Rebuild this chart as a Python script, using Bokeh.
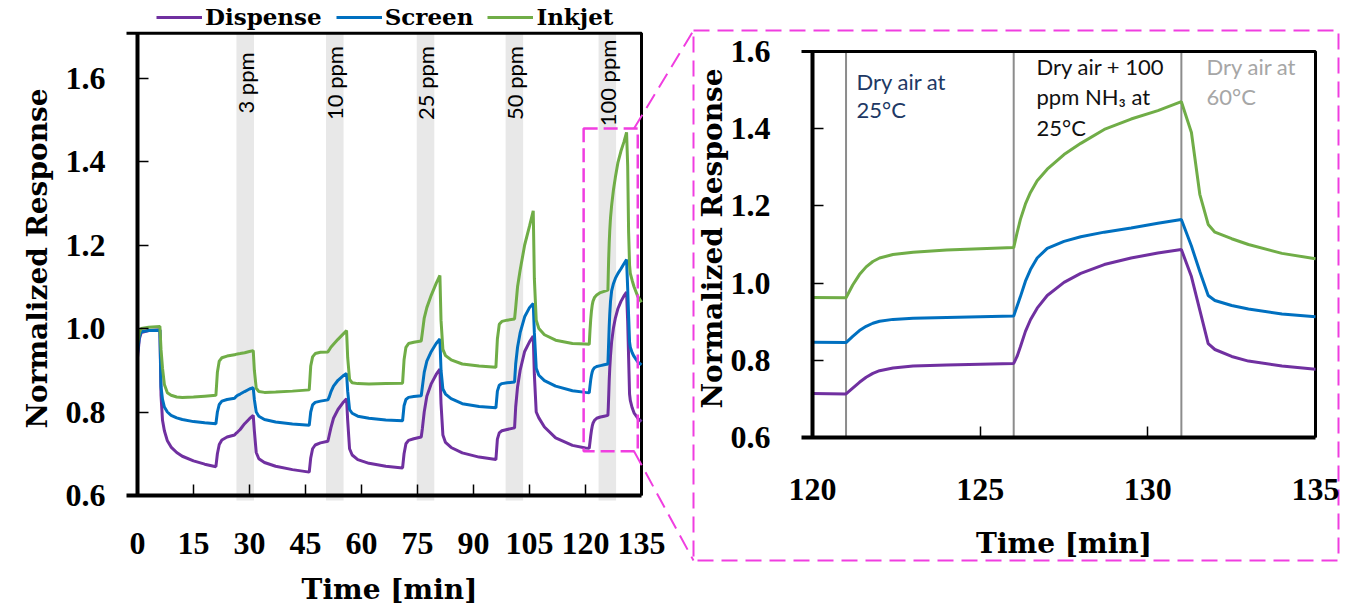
import math
from bokeh.plotting import figure
from bokeh.models import (Range1d, FixedTicker, PrintfTickFormatter,
                          BoxAnnotation, Legend, LegendItem, LinearAxis)
from bokeh.core.properties import value
from bokeh.embed import file_html
from bokeh.resources import INLINE

# ---------------- data ----------------
time_min = [
    0, 0.5, 1, 3, 6,
    6.3, 6.7, 7.2, 8, 9, 10.5, 12, 15, 18,
    21, 21.4, 21.9, 22.6, 24, 26, 26.3, 26.8, 27.5, 28.7, 30, 31, 31.3, 31.8, 32.5, 34, 37, 41.5,
    46, 46.4, 46.9, 47.6, 49, 51, 51.3, 51.8, 52.5, 53.7, 55, 56, 56.3, 56.8, 57.5, 59, 62, 66.5,
    71, 71.4, 71.9, 72.6, 74, 76, 76.3, 76.8, 77.5, 78.7, 80, 81, 81.3, 81.8, 82.5, 84, 87, 91.5,
    96, 96.4, 96.9, 97.6, 99, 101, 101.3, 101.8, 102.5, 103.7, 105, 106, 106.3, 106.8, 107.5, 109, 112, 116.5,
    120, 121, 121.2, 121.4, 121.6, 121.8, 122, 122.4, 123, 124, 125, 126, 126.1, 126.2, 126.35, 126.5,
    126.7, 127, 127.5, 128, 128.7, 129.5, 130.3, 131, 131.3, 131.55, 131.8, 132, 132.5, 133, 134, 135,
]
dispense = [
    0.93, 0.975, 0.99, 0.995, 0.997,
    0.84, 0.78, 0.755, 0.731, 0.716, 0.703, 0.694, 0.683, 0.675,
    0.669, 0.700, 0.722, 0.733, 0.740, 0.745, 0.748, 0.752, 0.758, 0.772, 0.784, 0.792, 0.755, 0.703, 0.688, 0.679, 0.670, 0.662,
    0.656, 0.690, 0.712, 0.721, 0.726, 0.730, 0.742, 0.762, 0.785, 0.806, 0.822, 0.832, 0.780, 0.712, 0.697, 0.686, 0.677, 0.670,
    0.666, 0.700, 0.724, 0.732, 0.736, 0.740, 0.760, 0.800, 0.838, 0.868, 0.890, 0.903, 0.820, 0.745, 0.727, 0.715, 0.702, 0.692,
    0.686, 0.735, 0.750, 0.755, 0.758, 0.762, 0.812, 0.860, 0.900, 0.945, 0.968, 0.982, 0.890, 0.800, 0.786, 0.764, 0.738, 0.720,
    0.714, 0.713, 0.728, 0.743, 0.756, 0.766, 0.773, 0.780, 0.785, 0.788, 0.790, 0.792, 0.810, 0.835, 0.875, 0.905,
    0.935, 0.968, 1.002, 1.025, 1.048, 1.065, 1.078, 1.087, 1.017, 0.930, 0.843, 0.828, 0.810, 0.798, 0.785, 0.777,
]
screen = [
    0.94, 0.98, 0.992, 0.995, 0.996,
    0.86, 0.83, 0.812, 0.800, 0.792, 0.786, 0.782, 0.777, 0.774,
    0.772, 0.800, 0.818, 0.826, 0.830, 0.833, 0.836, 0.840, 0.843, 0.849, 0.855, 0.858, 0.830, 0.800, 0.790, 0.782, 0.776, 0.771,
    0.768, 0.800, 0.817, 0.823, 0.826, 0.829, 0.835, 0.848, 0.862, 0.876, 0.886, 0.892, 0.850, 0.806, 0.797, 0.790, 0.785, 0.781,
    0.779, 0.815, 0.830, 0.835, 0.837, 0.839, 0.860, 0.895, 0.922, 0.945, 0.964, 0.975, 0.900, 0.855, 0.843, 0.832, 0.820, 0.813,
    0.810, 0.850, 0.864, 0.868, 0.870, 0.872, 0.915, 0.955, 0.990, 1.028, 1.050, 1.060, 0.990, 0.905, 0.888, 0.875, 0.862, 0.851,
    0.847, 0.846, 0.862, 0.877, 0.888, 0.896, 0.901, 0.906, 0.909, 0.911, 0.913, 0.915, 0.940, 0.965, 1.005, 1.035,
    1.065, 1.090, 1.108, 1.120, 1.132, 1.143, 1.155, 1.165, 1.096, 1.030, 0.968, 0.955, 0.942, 0.933, 0.920, 0.913,
]
inkjet = [
    0.962, 0.990, 1.000, 1.003, 1.005,
    0.950, 0.905, 0.866, 0.846, 0.840, 0.836, 0.835, 0.836, 0.838,
    0.840, 0.895, 0.922, 0.930, 0.934, 0.937, 0.938, 0.939, 0.940, 0.942, 0.945, 0.947, 0.900, 0.857, 0.849, 0.847, 0.848, 0.850,
    0.853, 0.910, 0.932, 0.940, 0.943, 0.944, 0.948, 0.955, 0.962, 0.974, 0.986, 0.995, 0.930, 0.878, 0.870, 0.868, 0.867, 0.868,
    0.869, 0.925, 0.955, 0.964, 0.967, 0.970, 0.990, 1.025, 1.050, 1.080, 1.108, 1.127, 1.020, 0.950, 0.935, 0.925, 0.915, 0.910,
    0.907, 0.975, 1.010, 1.017, 1.020, 1.023, 1.050, 1.100, 1.140, 1.200, 1.245, 1.282, 1.120, 1.020, 1.000, 0.985, 0.972, 0.964,
    0.963, 0.962, 0.995, 1.022, 1.042, 1.056, 1.065, 1.074, 1.080, 1.086, 1.089, 1.092, 1.130, 1.165, 1.205, 1.235,
    1.265, 1.295, 1.333, 1.362, 1.398, 1.425, 1.447, 1.470, 1.390, 1.230, 1.152, 1.132, 1.115, 1.100, 1.077, 1.063,
]

series_names = ["Dispense", "Screen", "Inkjet"]
series_colors = ["#7030A0", "#0070C0", "#70AD47"]

band_start = [26.5, 50.5, 74.8, 98.6, 123.5]
band_end = [31.2, 55.2, 79.5, 103.3, 128.2]
band_labels = ["3 ppm", "10 ppm", "25 ppm", "50 ppm", "100 ppm"]
band_label_y = 1.588

main_x_ticks = [0, 15, 30, 45, 60, 75, 90, 105, 120, 135]
main_y_ticks = [0.6, 0.8, 1.0, 1.2, 1.4, 1.6]
inset_x_ticks = [120, 125, 130, 135]
inset_y_ticks = [0.6, 0.8, 1.0, 1.2, 1.4, 1.6]

main_x_lim = [0, 135]
main_y_lim = [0.6, 1.707]
inset_x_lim = [120, 135]
inset_y_lim = [0.6, 1.6]

zoom_x = [119.5, 134.0]
zoom_y = [0.706, 1.479]

phase_times = [121, 126, 131]
phase_texts = ["Dry air at\n25°C", "Dry air + 100\nppm NH\u2083 at\n25°C", "Dry air at\n60°C"]
phase_colors = ["#203864", "#111111", "#a6a6a6"]

MAGENTA = "#f03ee0"
SERIF_NUM = "Liberation Serif"
SERIF_TXT = "DejaVu Serif"

# ---------------- page geometry (px, canvas starts at page origin) ----------------
W, H = 1344, 608
PAGE_L, PAGE_T = 0, 0
PAGE_R, PAGE_B = PAGE_L + W, PAGE_T + H
M_LEFT_PX, M_RIGHT_PX, M_BOTTOM_PX = 137, 641, 495
M_PX_PER_Y = 417.5
I_LEFT_PX, I_RIGHT_PX, I_BOTTOM_PX, I_TOP_PX = 812, 1315, 437, 51
BOX_PX = (693, 30, 1338, 560)
CAP_PX = 11

msx = (M_RIGHT_PX - M_LEFT_PX) / (main_x_lim[1] - main_x_lim[0])
isx = (I_RIGHT_PX - I_LEFT_PX) / (inset_x_lim[1] - inset_x_lim[0])
isy = (I_BOTTOM_PX - I_TOP_PX) / (inset_y_lim[1] - inset_y_lim[0])


def mx(px):  # page x -> main data x
    return main_x_lim[0] + (px - M_LEFT_PX) / msx


def my(py):  # page y -> main data y
    return main_y_lim[0] + (M_BOTTOM_PX - py) / M_PX_PER_Y


def ix(px):
    return inset_x_lim[0] + (px - I_LEFT_PX) / isx


def iy(py):
    return inset_y_lim[0] + (I_BOTTOM_PX - py) / isy


p = figure(width=W, height=H,
           x_range=Range1d(mx(PAGE_L), mx(PAGE_R)), y_range=Range1d(my(PAGE_B), my(PAGE_T)),
           output_backend="svg", toolbar_location=None, min_border=0,
           outline_line_color=None)
p.extra_x_ranges = {"ix": Range1d(ix(PAGE_L), ix(PAGE_R))}
p.extra_y_ranges = {"iy": Range1d(iy(PAGE_B), iy(PAGE_T))}
p.xgrid.visible = False
p.ygrid.visible = False


def style_axis(ax, ticks, standoff, fmt=None):
    ax.ticker = FixedTicker(ticks=ticks)
    if fmt:
        ax.formatter = PrintfTickFormatter(format=fmt)
    ax.axis_line_width = 4
    ax.axis_line_color = "black"
    ax.major_tick_in = 11
    ax.major_tick_out = 0
    ax.minor_tick_in = 0
    ax.minor_tick_out = 0
    ax.major_tick_line_width = 1.5
    ax.major_label_text_font = SERIF_NUM
    ax.major_label_text_font_style = "bold"
    ax.major_label_text_font_size = "32px"
    ax.major_label_text_color = "black"
    ax.major_label_standoff = standoff


# main axes (fixed inside the frame)
xa = p.xaxis[0]
xa.fixed_location = main_y_lim[0]
xa.bounds = (main_x_lim[0] - CAP_PX / msx, main_x_lim[1])
style_axis(xa, main_x_ticks, 37)
ya = p.yaxis[0]
ya.fixed_location = main_x_lim[0]
ya.bounds = (main_y_lim[0], main_y_lim[1])
style_axis(ya, main_y_ticks, 32, "%.1f")

# inset axes
ixa = LinearAxis(x_range_name="ix", y_range_name="iy", fixed_location=inset_y_lim[0],
                 bounds=(inset_x_lim[0] - CAP_PX / isx, inset_x_lim[1]))
style_axis(ixa, inset_x_ticks, 41)
p.add_layout(ixa, "below")
iya = LinearAxis(x_range_name="ix", y_range_name="iy", fixed_location=inset_x_lim[0],
                 bounds=(inset_y_lim[0], inset_y_lim[1]))
style_axis(iya, inset_y_ticks, 42, "%.1f")
p.add_layout(iya, "left")

# exposure bands
for s, e in zip(band_start, band_end):
    p.add_layout(BoxAnnotation(left=s, right=e, bottom=my(500), top=main_y_lim[1],
                               fill_color="#e8e8e8", fill_alpha=1.0, line_alpha=0,
                               level="underlay"))

band_centers = [(s + e) / 2 for s, e in zip(band_start, band_end)]
p.text(x=band_centers, y=[band_label_y] * len(band_centers), text=band_labels,
       angle=math.pi / 2, text_align="center", text_baseline="middle",
       text_font=value("Lato"), text_font_size="22px", text_color="black")

# main plot top / right borders
p.line(x=[main_x_lim[0] - CAP_PX / msx, main_x_lim[1], main_x_lim[1]],
       y=[main_y_lim[1], main_y_lim[1], main_y_lim[0]], line_color="black", line_width=3)

# data lines (main)
renderers = []
for vals, col in zip([dispense, screen, inkjet], series_colors):
    renderers.append(p.line(time_min, vals, line_color=col, line_width=3))

# zoom rectangle
p.add_layout(BoxAnnotation(left=zoom_x[0], right=zoom_x[1], bottom=zoom_y[0], top=zoom_y[1],
                           fill_alpha=0, line_color=MAGENTA, line_alpha=1.0, line_width=2.5,
                           line_dash="14 6", level="overlay"))

# ---------------- inset ----------------
p.segment(x0=phase_times, y0=[inset_y_lim[0]] * 3, x1=phase_times, y1=[inset_y_lim[1]] * 3,
          line_color="#8c8c8c", line_width=2, x_range_name="ix", y_range_name="iy")
p.line(x=[inset_x_lim[0] - CAP_PX / isx, inset_x_lim[1], inset_x_lim[1]],
       y=[inset_y_lim[1], inset_y_lim[1], inset_y_lim[0]], line_color="black", line_width=3,
       x_range_name="ix", y_range_name="iy")

inset_idx = [i for i, t in enumerate(time_min) if t >= inset_x_lim[0]]
inset_t = [time_min[i] for i in inset_idx]
for vals, col in zip([dispense, screen, inkjet], series_colors):
    p.line(inset_t, [vals[i] for i in inset_idx], line_color=col, line_width=3,
           x_range_name="ix", y_range_name="iy")

p.text(x=[ix(856)], y=[iy(67)], text=[phase_texts[0]], text_color=phase_colors[0],
       text_align="left", text_baseline="top", text_font=value("Lato"),
       text_font_size="22px", text_line_height=1.06, x_range_name="ix", y_range_name="iy")
p.text(x=[ix(1036), ix(1206)], y=[iy(52), iy(52)], text=phase_texts[1:],
       text_color=phase_colors[1:], text_align="left", text_baseline="top",
       text_font=value("Lato"), text_font_size="22px", text_line_height=1.14,
       x_range_name="ix", y_range_name="iy")

# axis titles
title_kw = dict(text_font=value(SERIF_TXT), text_font_style="bold", text_font_size="28px",
                text_color="black", text_align="center", text_baseline="middle")
p.text(x=[(main_x_lim[0] + main_x_lim[1]) / 2], y=[my(589)], text=["Time [min]"], **title_kw)
p.text(x=[mx(37)], y=[my(258)], text=["Normalized Response"], angle=math.pi / 2, **title_kw)
p.text(x=[(inset_x_lim[0] + inset_x_lim[1]) / 2], y=[iy(543)], text=["Time [min]"],
       x_range_name="ix", y_range_name="iy", **title_kw)
p.text(x=[ix(712)], y=[iy(238)], text=["Normalized Response"], angle=math.pi / 2,
       x_range_name="ix", y_range_name="iy", **title_kw)

# zoom connectors and dashed frame around the inset
bl, bt, br, bb = BOX_PX
p.multi_line(xs=[[133.0, mx(bl)], [133.0, mx(bl)],
                 [mx(bl), mx(br), mx(br), mx(bl), mx(bl)]],
             ys=[[zoom_y[1], my(bt)], [zoom_y[0], my(bb)],
                 [my(bt), my(bt), my(bb), my(bb), my(bt)]],
             line_color=MAGENTA, line_width=2, line_dash="16 8")

# legend
legend = Legend(items=[LegendItem(label=n, renderers=[r]) for n, r in zip(series_names, renderers)],
                orientation="horizontal", location=(156, H - 30),
                label_text_font=SERIF_TXT, label_text_font_style="bold",
                label_text_font_size="23px", label_text_color="black",
                glyph_width=46, glyph_height=20, label_standoff=3, spacing=14,
                padding=0, margin=0, border_line_alpha=0, background_fill_alpha=0)
p.add_layout(legend)

open("out.html", "w").write(file_html(p, INLINE))
